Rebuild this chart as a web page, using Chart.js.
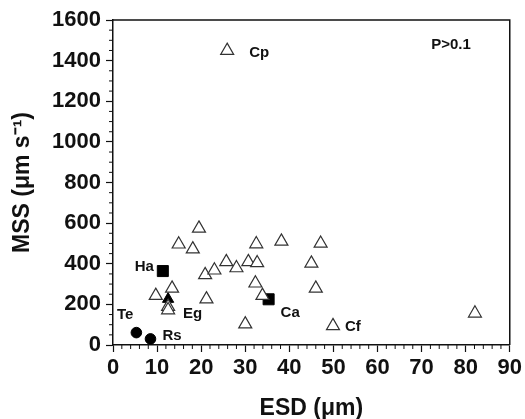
<!DOCTYPE html>
<html>
<head>
    <title>MSS vs ESD</title>
    <script src="https://cdn.jsdelivr.net/npm/chart.js@4.4.1/dist/chart.umd.min.js"></script>
    <style>
        body { margin: 0; background: #fff; }
    </style>
</head>
<body>
    <canvas id="mss-chart" width="525" height="419"></canvas>

    <script>
        // open triangles
        var openESD = [25.9, 19.5, 14.9, 18.1, 9.7, 13.4, 12.5, 12.5, 20.9, 23.0, 21.2, 25.7, 28.0, 30.7, 32.5, 32.7, 32.3, 33.9, 30.0, 38.2, 45.0, 47.1, 46.0, 49.9, 82.1];
        var openMSS = [1449, 574, 496, 472, 243, 279, 189, 172, 345, 368, 226, 409, 379, 409, 497, 404, 304, 243, 103, 510, 402, 500, 279, 94, 156];
        var openNames = ['Cp', '', '', '', '', '', '', '', '', '', '', '', '', '', '', '', '', '', '', '', '', '', '', 'Cf', ''];

        // filled triangle
        var triESD = [12.5];
        var triMSS = [226];
        var triNames = ['Eg'];

        // filled squares
        var sqESD = [11.3, 35.3];
        var sqMSS = [364, 225];
        var sqNames = ['Ha', 'Ca'];

        // filled circles
        var circESD = [5.3, 8.5];
        var circMSS = [61, 30];
        var circNames = ['Te', 'Rs'];

        var xTicks = [0, 10, 20, 30, 40, 50, 60, 70, 80, 90];
        var yTicks = [0, 200, 400, 600, 800, 1000, 1200, 1400, 1600];
        var note = 'P>0.1';

        function pts(xs, ys, names) {
            return xs.map(function(x, i) { return { x: x, y: ys[i], name: names[i] }; });
        }

        // where each species label sits relative to its marker
        var labelPos = {
            Cp: { dx: 22, dy: 2, align: 'left' },
            Cf: { dx: 12, dy: 1, align: 'left' },
            Eg: { dx: 15, dy: 15, align: 'left' },
            Ha: { dx: -9, dy: -4, align: 'right' },
            Ca: { dx: 12, dy: 14, align: 'left' },
            Te: { dx: -3, dy: -18, align: 'right' },
            Rs: { dx: 12, dy: -3, align: 'left' }
        };

        var FONT = "'Liberation Sans', Arial, sans-serif";
        var INK = '#111';

        var extras = {
            id: 'extras',
            afterDraw: function(chart) {
                var ctx = chart.ctx;
                var a = chart.chartArea;
                var xs = chart.scales.x, ys = chart.scales.y;
                ctx.save();
                ctx.strokeStyle = INK;
                ctx.lineWidth = 1.5;
                // frame top/right
                ctx.beginPath();
                ctx.moveTo(a.left, a.top);
                ctx.lineTo(a.right, a.top);
                ctx.lineTo(a.right, a.bottom);
                ctx.stroke();
                // minor ticks
                ctx.lineWidth = 1;
                ctx.beginPath();
                for (var v = 0; v <= 90; v += 2) {
                    if (v % 10 === 0) continue;
                    var px = xs.getPixelForValue(v);
                    ctx.moveTo(px, a.bottom);
                    ctx.lineTo(px, a.bottom + 4);
                }
                for (var w = 0; w <= 1600; w += 50) {
                    if (w % 200 === 0) continue;
                    var py = ys.getPixelForValue(w);
                    ctx.moveTo(a.left, py);
                    ctx.lineTo(a.left - 4, py);
                }
                ctx.stroke();

                // point labels
                ctx.fillStyle = INK;
                ctx.font = 'bold 15px ' + FONT;
                ctx.textBaseline = 'middle';
                chart.data.datasets.forEach(function(ds, di) {
                    var meta = chart.getDatasetMeta(di);
                    ds.data.forEach(function(p, i) {
                        if (!p.name) return;
                        var pos = labelPos[p.name];
                        var el = meta.data[i];
                        ctx.textAlign = pos.align;
                        ctx.fillText(p.name, el.x + pos.dx, el.y + pos.dy);
                    });
                });

                // significance note
                ctx.font = 'bold 15px ' + FONT;
                ctx.textAlign = 'right';
                ctx.fillText(note, a.right - 39, a.top + 25);
                ctx.restore();
            }
        };

        var ctx = document.getElementById('mss-chart').getContext('2d');
        var chart = new Chart(ctx, {
            type: 'scatter',
            data: {
                datasets: [{
                    label: 'open',
                    data: pts(openESD, openMSS, openNames),
                    pointStyle: 'triangle',
                    pointRadius: 7.5,
                    pointBackgroundColor: '#fff',
                    pointBorderColor: '#333',
                    pointBorderWidth: 1.2
                }, {
                    label: 'filled triangle',
                    data: pts(triESD, triMSS, triNames),
                    pointStyle: 'triangle',
                    pointRadius: 6.5,
                    pointBackgroundColor: '#000',
                    pointBorderColor: '#000',
                    pointBorderWidth: 1
                }, {
                    label: 'squares',
                    data: pts(sqESD, sqMSS, sqNames),
                    pointStyle: 'rect',
                    pointRadius: 7.8,
                    pointBackgroundColor: '#000',
                    pointBorderColor: '#000',
                    pointBorderWidth: 1
                }, {
                    label: 'circles',
                    data: pts(circESD, circMSS, circNames),
                    pointStyle: 'circle',
                    pointRadius: 5.3,
                    pointBackgroundColor: '#000',
                    pointBorderColor: '#000',
                    pointBorderWidth: 1
                }]
            },
            options: {
                responsive: false,
                animation: false,
                layout: { padding: { top: 20, right: 14, left: 0, bottom: 0 } },
                plugins: {
                    legend: { display: false },
                    tooltip: { enabled: false }
                },
                scales: {
                    x: {
                        type: 'linear',
                        min: 0,
                        max: 90,
                        afterBuildTicks: function(s) { s.ticks = xTicks.map(function(v) { return { value: v }; }); },
                        afterFit: function(s) { s.height = 74; },
                        ticks: {
                            color: INK,
                            padding: 3,
                            maxRotation: 0,
                            autoSkip: false,
                            callback: function(v) { return String(v); },
                            font: { family: FONT, size: 22, weight: 'bold' }
                        },
                        grid: { drawOnChartArea: false, tickLength: 7, color: INK, tickWidth: 1.2 },
                        border: { color: INK, width: 1.5 },
                        title: {
                            display: true,
                            text: 'ESD (\u03bcm)',
                            color: INK,
                            padding: { top: 4, bottom: -3 },
                            font: { family: FONT, size: 23, weight: 'bold' }
                        }
                    },
                    y: {
                        min: 0,
                        max: 1600,
                        afterBuildTicks: function(s) { s.ticks = yTicks.map(function(v) { return { value: v }; }); },
                        afterFit: function(s) { s.width = 113; },
                        ticks: {
                            color: INK,
                            padding: 5,
                            autoSkip: false,
                            callback: function(v) { return String(v); },
                            font: { family: FONT, size: 22, weight: 'bold' }
                        },
                        grid: { drawOnChartArea: false, tickLength: 7, color: INK, tickWidth: 1.2 },
                        border: { color: INK, width: 1.5 },
                        title: {
                            display: true,
                            text: 'MSS (\u03bcm s\u207b\u00b9)',
                            color: INK,
                            padding: { top: 9, bottom: 0 },
                            font: { family: FONT, size: 23, weight: 'bold' }
                        }
                    }
                }
            },
            plugins: [extras]
        });
    </script>
</body>
</html>
